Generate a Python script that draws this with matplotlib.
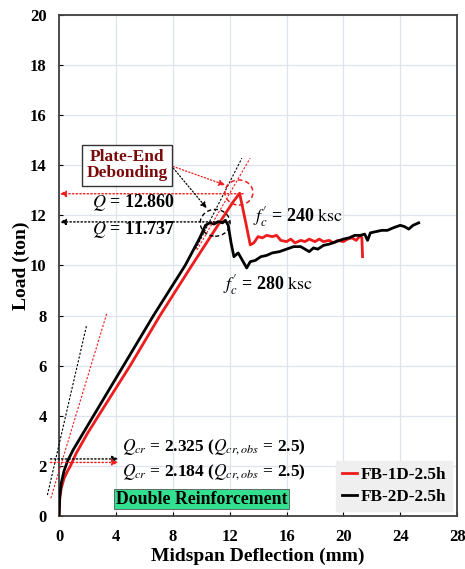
import matplotlib
matplotlib.use("Agg")
import matplotlib.pyplot as plt
from matplotlib.patches import Ellipse

plt.rcParams['font.family'] = ['Liberation Serif', 'DejaVu Serif']
plt.rcParams['mathtext.fontset'] = 'stix'

# ---------------- data ----------------
red_x = [0, 0.05, 0.15, 0.35, 0.6, 0.8, 1.2, 2.0, 2.77, 5.0, 7.1, 9.34, 11.0,
         12.2, 12.7, 13.1, 13.45, 13.7, 14.0, 14.3, 14.6, 15.0, 15.3, 15.6,
         16.0, 16.3, 16.6, 17.0, 17.3, 17.6, 18.0, 18.3, 18.6, 19.0, 19.3, 19.6,
         20.0, 20.3, 20.6, 20.9, 21.2, 21.3, 21.35]
red_y = [0, 0.7, 1.1, 1.5, 1.8, 2.0, 2.5, 3.3, 4.0, 6.0, 8.0, 10.0, 11.45,
         12.5, 12.88, 11.8, 10.82, 10.9, 11.15, 11.1, 11.2, 11.15, 11.2, 11.0,
         10.95, 11.05, 10.9, 11.0, 10.95, 11.05, 10.95, 11.05, 10.95, 11.0, 10.9, 11.0,
         10.95, 11.05, 11.1, 11.0, 11.2, 11.1, 10.35]

blk_x = [0, 0.05, 0.15, 0.35, 0.6, 1.0, 2.42, 4.53, 6.64, 8.87, 9.9, 10.3, 10.6, 10.9,
         11.2, 11.5, 11.7, 11.9, 12.1, 12.3, 12.6, 12.9, 13.2, 13.45, 13.8, 14.2,
         14.6, 15.0, 15.5, 16.0, 16.5, 17.0, 17.3, 17.6, 17.9, 18.2, 18.6, 19.0,
         19.5, 20.0, 20.4, 20.8, 21.2, 21.5, 21.7, 21.9, 22.3, 22.7, 23.1, 23.5,
         24.0, 24.3, 24.6, 24.9, 25.3]
blk_y = [0, 0.8, 1.3, 1.8, 2.2, 2.65, 4.0, 6.0, 8.0, 10.0, 11.1, 11.6, 11.7, 11.65,
         11.75, 11.7, 11.8, 11.6, 10.9, 10.35, 10.5, 10.2, 9.9, 10.15, 10.2, 10.35,
         10.4, 10.5, 10.55, 10.65, 10.75, 10.75, 10.65, 10.55, 10.7, 10.65, 10.8, 10.85,
         10.95, 11.05, 11.1, 11.2, 11.2, 11.25, 11.0, 11.3, 11.35, 11.4, 11.4, 11.5,
         11.6, 11.55, 11.45, 11.6, 11.7]

labels = ['FB-1D-2.5h', 'FB-2D-2.5h']
x_ticks = [0, 4, 8, 12, 16, 20, 24, 28]
y_ticks = [0, 2, 4, 6, 8, 10, 12, 14, 16, 18, 20]

q_peak = [12.860, 11.737]
q_cr = [2.325, 2.184]

# tangent (stiffness) lines
blk_init_x = [-0.82, 1.94]
blk_init_y = [0.84, 7.62]
red_init_x = [-0.58, 3.36]
red_init_y = [0.71, 8.09]
blk_sec_x = [9.6, 12.86]
blk_sec_y = [10.65, 14.28]
red_sec_x = [9.7, 13.44]
red_sec_y = [10.62, 14.28]

RED = '#ee1c1c'
DARKRED = '#7a0a0a'

fig = plt.figure(figsize=(4.65, 5.69), dpi=100)
ax = fig.add_axes([0.127, 0.093, 0.856, 0.881])

ax.plot(red_x, red_y, color=RED, lw=2.0, label=labels[0], zorder=4)
ax.plot(blk_x, blk_y, color='black', lw=2.0, label=labels[1], zorder=5)

dash_kw = dict(lw=0.8, linestyle=(0, (2, 1.5)), clip_on=False, zorder=6)
ax.plot(blk_init_x, blk_init_y, color='black', **dash_kw)
ax.plot(red_init_x, red_init_y, color=RED, **dash_kw)
ax.plot(blk_sec_x, blk_sec_y, color='black', **dash_kw)
ax.plot(red_sec_x, red_sec_y, color=RED, **dash_kw)

# circles around peaks
ax.add_patch(Ellipse((12.65, 12.91), 1.97, 1.0, fill=False, ec=RED, lw=1.1,
                     linestyle=(0, (3, 2)), zorder=6))
ax.add_patch(Ellipse((10.98, 11.7), 2.1, 1.07, fill=False, ec='black', lw=1.0,
                     linestyle=(0, (3, 2)), zorder=6))

# horizontal arrows to axis for peaks
ax.annotate('', xy=(0.05, q_peak[0]), xytext=(12.95, q_peak[0]),
            arrowprops=dict(arrowstyle='-|>', color=RED, lw=1.0, linestyle=':',
                            mutation_scale=9, shrinkA=0, shrinkB=0), zorder=6)
ax.annotate('', xy=(0.05, q_peak[1]), xytext=(12.0, q_peak[1]),
            arrowprops=dict(arrowstyle='-|>', color='black', lw=1.0, linestyle=':',
                            mutation_scale=9, shrinkA=0, shrinkB=0), zorder=6)

# cracking arrows
ax.annotate('', xy=(4.17, 2.28), xytext=(-0.6, 2.28), annotation_clip=False,
            arrowprops=dict(arrowstyle='-|>', color='black', lw=1.0, linestyle=':',
                            mutation_scale=9, shrinkA=0, shrinkB=0), zorder=6)
ax.annotate('', xy=(4.17, 2.14), xytext=(-0.6, 2.14), annotation_clip=False,
            arrowprops=dict(arrowstyle='-|>', color=RED, lw=1.0, linestyle=':',
                            mutation_scale=9, shrinkA=0, shrinkB=0), zorder=6)

# box annotation
ax.text(4.78, 14.0, 'Plate-End\nDebonding', ha='center', va='center',
        fontsize=12.5, fontweight='bold', color=DARKRED, linespacing=1.05,
        bbox=dict(boxstyle='square,pad=0.25', fc='white', ec='#333333', lw=1.0),
        zorder=7)
ax.annotate('', xy=(11.68, 13.21), xytext=(8.02, 13.95),
            arrowprops=dict(arrowstyle='-|>', color=RED, lw=0.9, linestyle=':',
                            mutation_scale=9, shrinkA=0, shrinkB=0), zorder=6)
ax.annotate('', xy=(10.39, 12.28), xytext=(8.04, 13.88),
            arrowprops=dict(arrowstyle='-|>', color='black', lw=0.9, linestyle=':',
                            mutation_scale=9, shrinkA=0, shrinkB=0), zorder=6)

ax.text(2.32, 12.5, r'$Q$ = %.3f' % q_peak[0], fontsize=13, fontweight='bold',
        ha='left', va='center', zorder=7)
ax.text(2.32, 11.42, r'$Q$ = %.3f' % q_peak[1], fontsize=13, fontweight='bold',
        ha='left', va='center', zorder=7)

ax.text(13.67, 11.95, r"$f_c'$ = 240 $\mathrm{ksc}$", fontsize=13, fontweight='bold',
        ha='left', va='center', zorder=7)
ax.text(11.56, 9.22, r"$f_c'$ = 280 $\mathrm{ksc}$", fontsize=13, fontweight='bold',
        ha='left', va='center', zorder=7)

ax.text(4.41, 2.77, r'$Q_{cr}$ = %.3f ($Q_{cr,obs}$ = 2.5)' % q_cr[0], fontsize=12.5,
        fontweight='bold', ha='left', va='center', zorder=7)
ax.text(4.41, 1.77, r'$Q_{cr}$ = %.3f ($Q_{cr,obs}$ = 2.5)' % q_cr[1], fontsize=12.5,
        fontweight='bold', ha='left', va='center', zorder=7)

ax.text(10.03, 0.68, 'Double Reinforcement', fontsize=12.8, fontweight='bold',
        ha='center', va='center', zorder=7,
        bbox=dict(boxstyle='square,pad=0.1', fc='#33e08f', ec='#555555', lw=0.6))

leg = ax.legend(loc='lower right', frameon=True, fancybox=False, handlelength=0.9,
                handletextpad=0.2, borderpad=0.35, labelspacing=0.35,
                prop=dict(weight='bold', size=12.3), borderaxespad=0.3)
leg.get_frame().set_facecolor('#efefef')
leg.get_frame().set_edgecolor('#efefef')
leg.get_frame().set_alpha(1)

ax.set_xlim(0, 28)
ax.set_ylim(0, 20)
ax.set_xticks(x_ticks)
ax.set_yticks(y_ticks)
ax.grid(True, color='#dfe4ec', lw=0.9)
ax.set_axisbelow(True)
ax.tick_params(direction='in', length=3, width=0.8, pad=9, labelsize=12)
for lab in ax.get_xticklabels() + ax.get_yticklabels():
    lab.set_fontweight('bold')
for s in ax.spines.values():
    s.set_color('#404040')
    s.set_linewidth(1.3)

ax.set_xlabel('Midspan Deflection (mm)', fontsize=14, fontweight='bold', labelpad=2)
ax.set_ylabel('Load (ton)', fontsize=14, fontweight='bold', labelpad=0)

fig.savefig('out.png', dpi=100)
